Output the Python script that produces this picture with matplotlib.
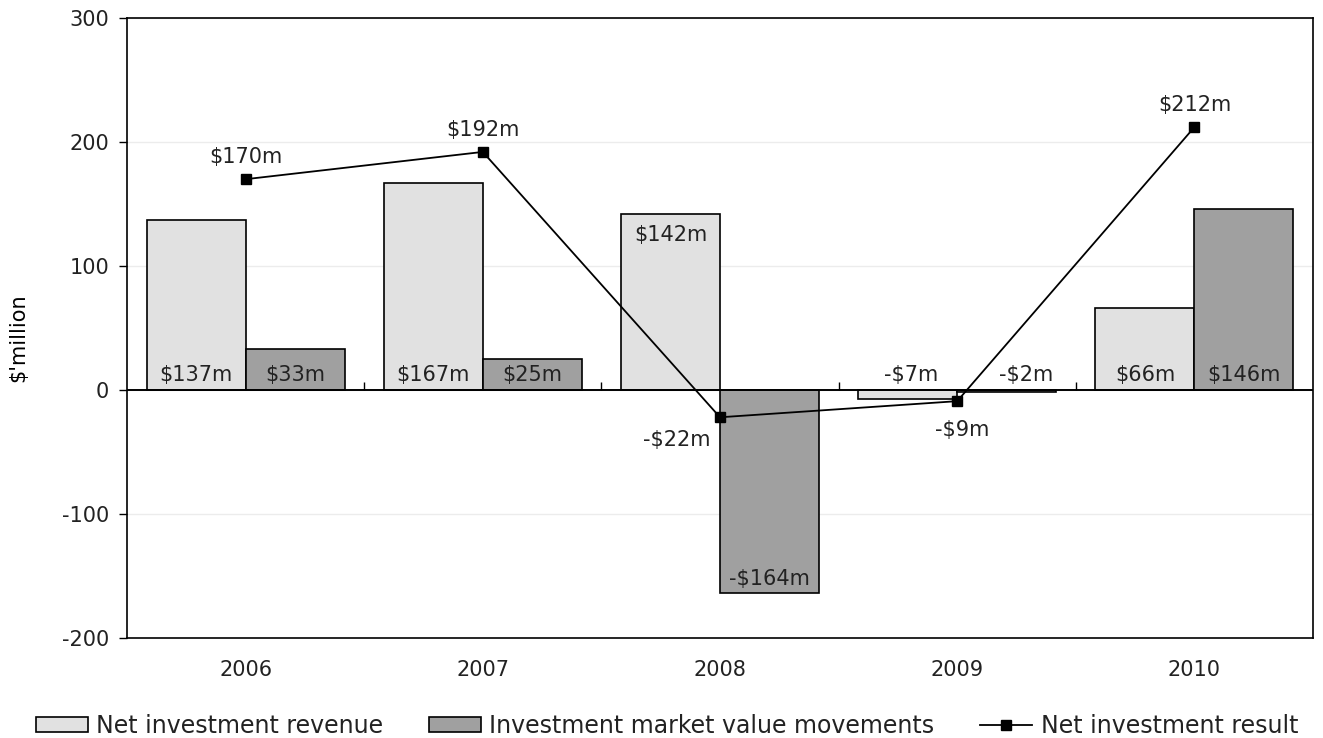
import matplotlib
matplotlib.use("Agg")
import matplotlib.pyplot as plt
from matplotlib.patches import Patch
from matplotlib.lines import Line2D
import numpy as np

years = ["2006", "2007", "2008", "2009", "2010"]
net_revenue = [137, 167, 142, -7, 66]
market_movements = [33, 25, -164, -2, 146]
net_result = [170, 192, -22, -9, 212]

plt.rcParams["font.family"] = ["DejaVu Sans"]
plt.rcParams["font.size"] = 15
plt.rcParams["text.color"] = "#222222"

light = "#e1e1e1"
dark = "#a0a0a0"

fig = plt.figure(figsize=(13.23, 7.38), dpi=100)
ax = fig.add_axes([127 / 1323, 1 - 638 / 738, (1313 - 127) / 1323, (638 - 18) / 738])

x = np.arange(len(years))
w = 0.417

ax.bar(x - w / 2, net_revenue, w, color=light, edgecolor="black", linewidth=1.2, zorder=2)
ax.bar(x + w / 2, market_movements, w, color=dark, edgecolor="black", linewidth=1.2, zorder=2)
ax.axhline(0, color="black", linewidth=1.4, zorder=3)
# short ticks on the zero line between year groups
ax.plot(x[:-1] + 0.5, np.zeros(len(x) - 1), ls="none", marker=2, ms=6,
        mew=1.0, color="black", zorder=3)
ax.plot(x, net_result, color="black", linewidth=1.3, marker="s", ms=7, zorder=4)

ax.set_xlim(-0.5, len(years) - 0.5)
ax.set_ylim(-200, 300)
ax.set_yticks([-200, -100, 0, 100, 200, 300])
ax.set_yticklabels(["-200", "-100", "0", "100", "200", "300"])
ax.set_xticks(x)
ax.set_xticklabels(years)
ax.tick_params(axis="x", length=0, pad=16, labelcolor="#222222")
ax.tick_params(axis="y", length=6, width=1, pad=7, labelcolor="#222222")
ax.yaxis.grid(True, color="#ececec", linewidth=1, zorder=0)
ax.set_axisbelow(True)
for s in ax.spines.values():
    s.set_linewidth(1.2)
ax.set_ylabel("$'million")
ax.yaxis.set_label_coords(-0.0835, 0.485)


def fmt(v):
    return f"-${abs(v)}m" if v < 0 else f"${v}m"


def label(xv, yv, text, dx, dy):
    ax.annotate(text, (xv, yv), xytext=(dx, dy), textcoords="offset pixels",
                ha="center", va="center", zorder=5)


# bar labels: (dx, dy, anchored at bar end?)
rev_off = [(0, 15, 0), (0, 15, 0), (0, -21, 1), (3, 15, 0), (0, 15, 0)]
for i, v in enumerate(net_revenue):
    dx, dy, at_end = rev_off[i]
    label(x[i] - w / 2, v if at_end else 0, fmt(v), dx, dy)

mkt_off = [(0, 15, 0), (0, 15, 0), (0, 14, 1), (19, 15, 0), (0, 15, 0)]
for i, v in enumerate(market_movements):
    dx, dy, at_end = mkt_off[i]
    label(x[i] + w / 2, v if at_end else 0, fmt(v), dx, dy)

# line labels
res_off = [(0, 22), (0, 22), (-43, -23), (5, -29), (0, 22)]
for i, v in enumerate(net_result):
    dx, dy = res_off[i]
    label(x[i], v, fmt(v), dx, dy)

handles = [
    Patch(facecolor=light, edgecolor="black", linewidth=1.2),
    Patch(facecolor=dark, edgecolor="black", linewidth=1.2),
    Line2D([], [], color="black", linewidth=1.3, marker="s", ms=7),
]
fig.legend(handles, ["Net investment revenue", "Investment market value movements",
                     "Net investment result"],
           loc="center", bbox_to_anchor=(0.504, 1 - 726 / 738), ncol=3, frameon=False,
           fontsize=17, handlelength=2.2, handleheight=0.6, handletextpad=0.35,
           columnspacing=1.95, borderaxespad=0)

fig.savefig("out.png", dpi=100)
